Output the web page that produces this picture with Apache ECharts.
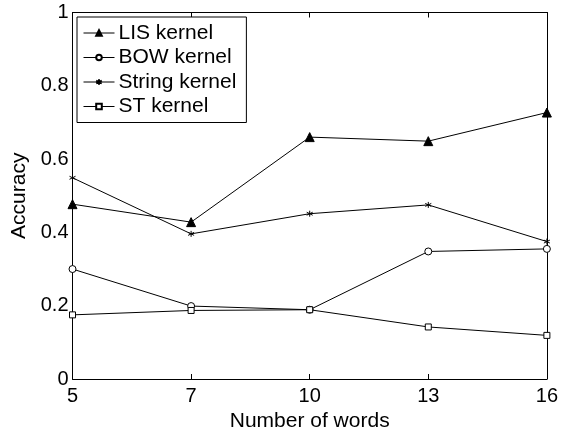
<!DOCTYPE html>
<html>
<head>
<meta charset="utf-8">
<script src="https://cdn.jsdelivr.net/npm/echarts@6/dist/echarts.min.js"></script>
<style>
  html, body { margin: 0; padding: 0; background: #fff; }
  #chart { width: 561px; height: 437px; }
</style>
</head>
<body>
<div id="chart"></div>
<script>
// Number of words per query (evenly spaced categories)
var wordCounts = ['5', '7', '10', '13', '16'];

// Accuracy for each kernel
var lisKernel    = [0.477, 0.428, 0.660, 0.649, 0.727];
var bowKernel    = [0.300, 0.199, 0.189, 0.348, 0.355];
var stringKernel = [0.549, 0.396, 0.451, 0.475, 0.375];
var stKernel     = [0.175, 0.187, 0.189, 0.142, 0.119];

var yTicks = [0, 0.2, 0.4, 0.6, 0.8, 1];

var FONT = '"Liberation Sans", Arial, Helvetica, sans-serif';
var INK = '#000';

// six-pointed asterisk drawn as strokes
var asterisk = 'path://M0,-5L0,5M-4.33,-2.5L4.33,2.5M-4.33,2.5L4.33,-2.5';

function makeSeries(name, data, symbol, size, filled) {
  return {
    name: name,
    type: 'line',
    data: data,
    symbol: symbol,
    symbolSize: size,
    showAllSymbol: true,
    lineStyle: { color: INK, width: 1 },
    itemStyle: {
      color: filled ? INK : '#fff',
      borderColor: INK,
      borderWidth: 1
    },
    emphasis: { disabled: true },
    animation: false
  };
}

var chart = echarts.init(document.getElementById('chart'), null, { renderer: 'canvas' });

var tickStyle = { inside: true, length: 5, lineStyle: { color: INK, width: 1 } };
var lineStyleAxis = { show: true, onZero: false, lineStyle: { color: INK, width: 1 } };

chart.setOption({
  backgroundColor: '#fff',
  textStyle: { fontFamily: FONT },
  grid: { left: 72.5, right: 12, top: 12.5, bottom: 50, containLabel: false },
  legend: {
    orient: 'vertical',
    left: 77,
    top: 17,
    padding: [4, 10, 4, 6],
    itemGap: 0.5,
    itemWidth: 31,
    itemHeight: 7,
    backgroundColor: '#fff',
    borderColor: INK,
    borderWidth: 1,
    borderRadius: 0,
    selectedMode: false,
    lineStyle: { width: 1 },
    textStyle: { fontFamily: FONT, fontSize: 21, lineHeight: 24, color: INK, padding: [0, 0, 0, -1] },
    data: ['LIS kernel', 'BOW kernel', 'String kernel', 'ST kernel']
  },
  xAxis: [
    {
      type: 'category',
      data: wordCounts,
      boundaryGap: false,
      position: 'bottom',
      name: 'Number of words',
      nameLocation: 'middle',
      nameGap: 32,
      nameTextStyle: { fontFamily: FONT, fontSize: 21, color: INK },
      axisLine: lineStyleAxis,
      axisTick: tickStyle,
      axisLabel: { fontFamily: FONT, fontSize: 20, color: INK, margin: 7 },
      splitLine: { show: false }
    },
    {
      type: 'category',
      data: wordCounts,
      boundaryGap: false,
      position: 'top',
      axisLine: lineStyleAxis,
      axisTick: tickStyle,
      axisLabel: { show: false },
      splitLine: { show: false }
    }
  ],
  yAxis: [
    {
      type: 'value',
      min: yTicks[0],
      max: yTicks[yTicks.length - 1],
      interval: 0.2,
      position: 'left',
      name: 'Accuracy',
      nameLocation: 'middle',
      nameGap: 40,
      nameTextStyle: { fontFamily: FONT, fontSize: 21, color: INK },
      axisLine: lineStyleAxis,
      axisTick: tickStyle,
      axisLabel: {
        fontFamily: FONT, fontSize: 20, color: INK, margin: 4,
        formatter: function (v) { return String(Math.round(v * 10) / 10); }
      },
      splitLine: { show: false }
    },
    {
      type: 'value',
      min: yTicks[0],
      max: yTicks[yTicks.length - 1],
      interval: 0.2,
      position: 'right',
      axisLine: lineStyleAxis,
      axisTick: tickStyle,
      axisLabel: { show: false },
      splitLine: { show: false }
    }
  ],
  series: [
    makeSeries('LIS kernel', lisKernel, 'triangle', 9, true),
    makeSeries('BOW kernel', bowKernel, 'circle', 7, false),
    makeSeries('String kernel', stringKernel, asterisk, 6, false),
    makeSeries('ST kernel', stKernel, 'rect', 6, false)
  ]
});
</script>
</body>
</html>
